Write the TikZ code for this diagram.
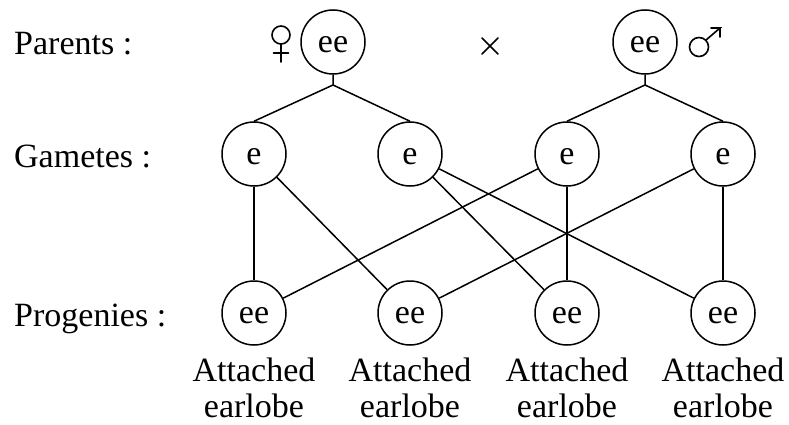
\documentclass[tikz,border=0pt]{standalone}
\usepackage{fontspec}
\setmainfont{Liberation Serif}
\begin{document}
\begin{tikzpicture}[x=1pt,y=-1pt,
  txt/.style={font=\fontsize{34}{34}\selectfont},
  allele/.style={txt,circle,draw,line width=1.5pt,minimum size=64pt,inner sep=0pt,
    text height=21pt,text depth=0pt},
  rowlabel/.style={txt,anchor=base west,inner sep=0pt},
  pheno/.style={align=center,inner sep=0pt,anchor=base,font=\fontsize{34}{36}\selectfont},
  link/.style={line width=1.5pt},
  sign/.style={line width=1.6pt,line cap=round}]
\useasboundingbox (0,0) rectangle (789,425);

% row headings
\node[rowlabel] (lp) at (14,55) {Parents :};
\node[rowlabel] (lg) at (14,167) {Gametes :};
\node[rowlabel] (lf) at (14,326) {Progenies :};

% parents
\node[allele] (pf) at (333,42) {ee};
\node[allele] (pm) at (645,42) {ee};

% female sign
\coordinate (sf) at (281,35);
\draw[sign] (sf) circle[radius=9];
\draw[sign] ([yshift=-9pt]sf) -- ++(0,18) ([shift={(-7.5,18)}]sf) -- ++(15,0);
% male sign
\coordinate (sm) at (699,47);
\draw[sign] (sm) circle[radius=9.5];
\draw[sign] ([shift={(6.7,-6.7)}]sm) -- (720,28) -- ++(-9,0) (720,28) -- ++(0,9);
% cross between the parents
\coordinate (cx) at (490,46);
\draw[sign] ([shift={(-8,-8)}]cx) -- ([shift={(8,8)}]cx) ([shift={(-8,8)}]cx) -- ([shift={(8,-8)}]cx);

% gametes
\node[allele] (g1) at (254,154) {e};
\node[allele] (g2) at (410,154) {e};
\node[allele] (g3) at (567,154) {e};
\node[allele] (g4) at (723,154) {e};

% progenies
\node[allele] (f1) at (254,313) {ee};
\node[allele] (f2) at (410,313) {ee};
\node[allele] (f3) at (567,313) {ee};
\node[allele] (f4) at (723,313) {ee};

% phenotypes (anchored on the baseline of the last line)
\node[pheno] (t1) at (254,417) {Attached\\earlobe};
\node[pheno] (t2) at (410,417) {Attached\\earlobe};
\node[pheno] (t3) at (567,417) {Attached\\earlobe};
\node[pheno] (t4) at (723,417) {Attached\\earlobe};

% branch points below the parents
\coordinate (jf) at (333,85);
\coordinate (jm) at (645,85);

% parents to gametes
\draw[link] (pf.south) -- (jf) (jf) -- (g1.north) (jf) -- (g2.north);
\draw[link] (pm.south) -- (jm) (jm) -- (g3.north) (jm) -- (g4.north);

% fertilisation
\draw[link] (g1) -- (f1);
\draw[link] (g1) -- (f2);
\draw[link] (g2) -- (f3);
\draw[link] (g2) -- (f4);
\draw[link] (g3) -- (f1);
\draw[link] (g3) -- (f3);
\draw[link] (g4) -- (f2);
\draw[link] (g4) -- (f4);
\end{tikzpicture}
\end{document}
